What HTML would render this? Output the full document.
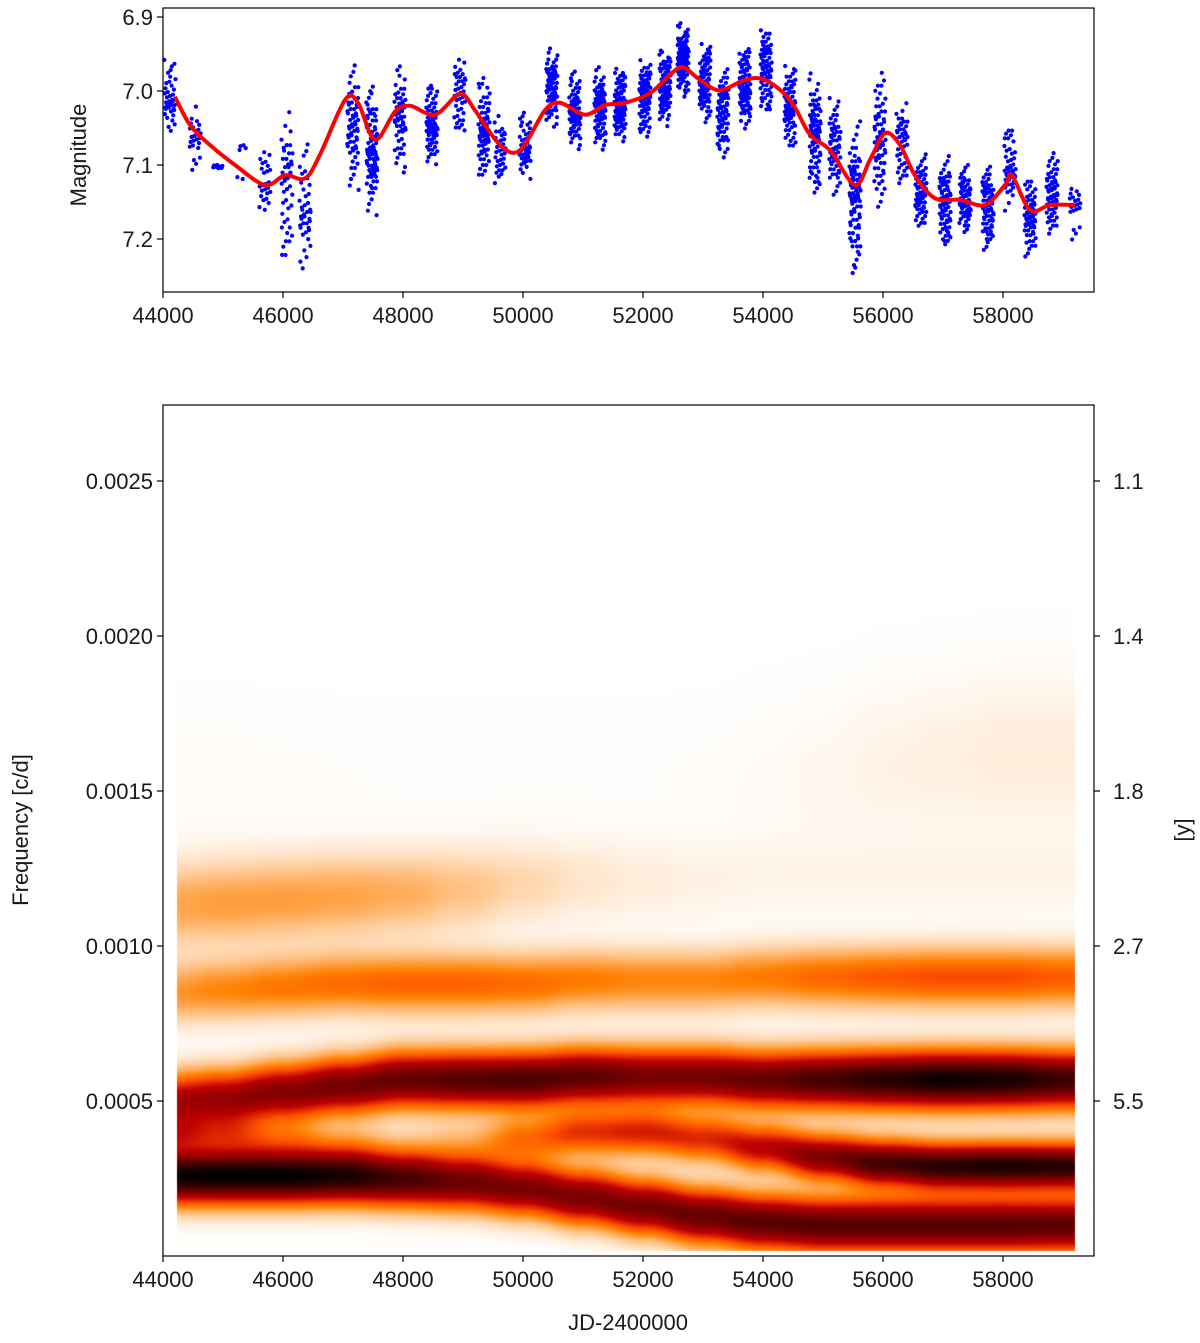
<!DOCTYPE html>
<html><head><meta charset="utf-8"><style>
html,body{margin:0;padding:0;background:#fff;}
#wrap{position:relative;width:1200px;height:1343px;}
#hm{position:absolute;left:0;top:0;}
svg{position:absolute;left:0;top:0;}
text{font-family:"Liberation Sans",sans-serif;font-size:22px;fill:#1a1a1a;}
</style></head><body>
<div id="wrap">
<canvas id="hm" width="1200" height="1343"></canvas>
<svg id="svg" width="1200" height="1343"></svg>
</div>
<script>
// ---------- data: light curve seasons ----------
const seasonJD  = [44117,44533,44917,45317,45700,46067,46367,47167,47483,47950,48483,48950,49350,49617,50033,50483,50867,51283,51617,52033,52367,52667,53033,53333,53700,54050,54450,54867,55200,55533,55950,56317,56633,57033,57367,57750,58117,58450,58817,59200];
const seasonMin = [6.958,7.012,7.080,7.053,7.066,7.012,7.066,6.958,6.985,6.958,6.985,6.945,6.972,7.026,7.026,6.938,6.972,6.965,6.958,6.945,6.938,6.904,6.931,6.958,6.931,6.904,6.958,6.972,7.005,7.032,6.958,7.005,7.080,7.080,7.093,7.093,7.039,7.107,7.073,7.107];
const seasonMax = [7.066,7.114,7.120,7.134,7.181,7.242,7.255,7.141,7.174,7.114,7.107,7.066,7.134,7.134,7.127,7.053,7.086,7.086,7.080,7.073,7.053,7.012,7.046,7.100,7.059,7.039,7.086,7.147,7.147,7.255,7.174,7.134,7.195,7.222,7.201,7.222,7.168,7.235,7.208,7.208];
const seasonN   = [40,25,8,6,25,45,40,60,80,55,70,40,70,35,45,70,70,80,80,80,80,90,80,70,80,70,70,80,60,80,60,45,60,70,60,70,45,60,60,20];
// ---------- data: smoothed red curve ----------
const fitJD  = [44200,44450,44783,45200,45700,46033,46367,46617,47033,47250,47533,47867,48117,48533,48950,49200,49617,49950,50367,50617,51033,51367,51700,52117,52450,52667,52950,53283,53700,54033,54450,54783,55117,55533,55783,56033,56283,56533,56867,57283,57700,58033,58150,58450,58783,59200];
const fitMag = [7.008,7.046,7.073,7.100,7.127,7.114,7.118,7.086,7.012,7.016,7.066,7.028,7.020,7.032,7.004,7.026,7.073,7.080,7.026,7.016,7.032,7.019,7.016,7.003,6.978,6.968,6.985,6.999,6.985,6.985,7.012,7.059,7.080,7.127,7.093,7.057,7.073,7.114,7.145,7.147,7.154,7.127,7.114,7.161,7.154,7.154];
// ---------- data: wavelet ridges (knots every 1000 d, 44000..59000) ----------
const knotJD = [44000,45000,46000,47000,48000,49000,50000,51000,52000,53000,54000,55000,56000,57000,58000,59000];
const bandMidFreq = [0.00050,0.00051,0.00053,0.00055,0.00057,0.00057,0.00057,0.00058,0.00058,0.00058,0.00057,0.00057,0.00057,0.00057,0.00057,0.00057];
const bandMidAmp  = [0.55,0.60,0.66,0.70,0.74,0.78,0.80,0.76,0.70,0.70,0.74,0.82,0.90,0.97,0.94,0.85];
const bandLowFreq = [0.00026,0.00026,0.00026,0.00026,0.00025,0.00024,0.00022,0.00019,0.00016,0.00013,0.00011,0.00010,0.00010,0.00010,0.00010,0.00010];
const bandLowAmp  = [0.97,1.00,1.00,0.94,0.82,0.72,0.68,0.68,0.70,0.74,0.77,0.78,0.78,0.78,0.78,0.76];
const band3Freq   = [0.00040,0.00040,0.00038,0.00036,0.00035,0.00036,0.00038,0.00040,0.00040,0.00038,0.00035,0.00032,0.00030,0.00029,0.00029,0.00029];
const band3Amp    = [0.40,0.30,0.18,0.10,0.06,0.12,0.28,0.40,0.44,0.42,0.52,0.68,0.83,0.90,0.93,0.90];
const band4Freq   = [0.00085,0.00086,0.00087,0.00088,0.00088,0.00088,0.00088,0.00089,0.00089,0.00089,0.00090,0.00090,0.00090,0.00090,0.00090,0.00090];
const band4Amp    = [0.20,0.24,0.27,0.29,0.31,0.31,0.29,0.26,0.24,0.24,0.26,0.30,0.33,0.35,0.35,0.32];
const band5Freq   = [0.00113,0.00114,0.00115,0.00116,0.00117,0.00118,0.00120,0.00121,0.00121,0.00121,0.00122,0.00122,0.00122,0.00122,0.00122,0.00122];
const band5Amp    = [0.17,0.19,0.19,0.18,0.16,0.12,0.08,0.05,0.035,0.025,0.02,0.02,0.02,0.02,0.02,0.02];
const band6Freq   = [0.00150,0.00150,0.00150,0.00150,0.00150,0.00150,0.00150,0.00150,0.00150,0.00150,0.00152,0.00155,0.00158,0.00160,0.00162,0.00162];
const band6Amp    = [0.008,0.008,0.006,0.005,0.004,0.004,0.004,0.004,0.004,0.006,0.01,0.015,0.025,0.03,0.035,0.035];
const xTicks = [44000,46000,48000,50000,52000,54000,56000,58000];
const magTicks = [6.9,7.0,7.1,7.2];
const freqTicks = [0.0005,0.0010,0.0015,0.0020,0.0025];
const periodLabels = ["5.5","2.7","1.8","1.4","1.1"];

// ---------- axes ----------
const L=163,R=1094, JD0=44000, pxPerJD=120/2000;
const X = jd => L+(jd-JD0)*pxPerJD;
const Ym = m => 17+(m-6.9)*740;
const Yf = f => 1256 - f*310000;
const NS="http://www.w3.org/2000/svg";
const svg=document.getElementById('svg');
function mk(tag,attrs,parent){const e=document.createElementNS(NS,tag);for(const k in attrs)e.setAttribute(k,attrs[k]);(parent||svg).appendChild(e);return e;}

// ---------- heatmap ----------
function interp(arr,jd){const t=(jd-44000)/1000;const i=Math.max(0,Math.min(14,Math.floor(t)));const u=Math.max(0,Math.min(1,t-i));const s=u*u*(3-2*u);return arr[i]*(1-s)+arr[i+1]*s;}
const cv=document.getElementById('hm'),ctx=cv.getContext('2d');
const hx0=177,hx1=1075,hy0=406,hy1=1251;
const img=ctx.createImageData(hx1-hx0,hy1-hy0);
const bands=[[bandMidFreq,bandMidAmp,0.000062],[bandLowFreq,bandLowAmp,0.00006],[band3Freq,band3Amp,0.00005],[band4Freq,band4Amp,0.000065],[band5Freq,band5Amp,0.00009],[band6Freq,band6Amp,0.00018]];
for(let px=hx0;px<hx1;px++){
  const jd=JD0+(px-L)/pxPerJD;
  const bs=bands.map(b=>[interp(b[0],jd),interp(b[1],jd),b[2]]);
  for(let py=hy0;py<hy1;py++){
    const f=(1256-py)/310000;let q=1;
    for(const b of bs){const d=(f-b[0])/b[2];q*=1-Math.min(1,b[1]*Math.exp(-0.5*d*d));}
    const v=1-q;const x=1-v;
    const r=Math.min(1,1.5*x),g=Math.max(0,Math.min(1,2*x-1)),bl=Math.max(0,Math.min(1,4*x-3));
    const k=((py-hy0)*(hx1-hx0)+(px-hx0))*4;
    img.data[k]=r*255;img.data[k+1]=g*255;img.data[k+2]=bl*255;img.data[k+3]=255;
  }
}
ctx.putImageData(img,hx0,hy0);

// ---------- top scatter ----------
const gPts=mk('g',{});


seasonJD.forEach((jd,i)=>{
  const n=seasonN[i];
  for(let j=0;j<n;j++){
    const a=(j*0.618034+i*0.13)%1, b=(j*0.4142136+i*0.37)%1, c=(j*0.7320508+i*0.21)%1;
    const tri=(a+b)/2;
    const m=seasonMin[i]+(seasonMax[i]-seasonMin[i])*tri*1.0;
    const dj=(c-0.5)*190;
    const ci=mk('circle',{cx:X(jd+dj).toFixed(1),cy:Ym(m).toFixed(1),r:2.1,fill:'#0000ff'},gPts);
    
    
  }
});
// red fitted line (Catmull-Rom)
(function(){
  const p=fitJD.map((jd,i)=>[X(jd),Ym(fitMag[i])]);
  let d=`M${p[0][0]},${p[0][1]}`;
  for(let i=0;i<p.length-1;i++){
    const p0=p[Math.max(0,i-1)],p1=p[i],p2=p[i+1],p3=p[Math.min(p.length-1,i+2)];
    const c1=[p1[0]+(p2[0]-p0[0])/6,p1[1]+(p2[1]-p0[1])/6],c2=[p2[0]-(p3[0]-p1[0])/6,p2[1]-(p3[1]-p1[1])/6];
    d+=` C${c1[0].toFixed(1)},${c1[1].toFixed(1)} ${c2[0].toFixed(1)},${c2[1].toFixed(1)} ${p2[0].toFixed(1)},${p2[1].toFixed(1)}`;
  }
  const path=mk('path',{d:d,fill:'none',stroke:'#ff0000','stroke-width':4,'stroke-linejoin':'round'});
  
  
})();

// ---------- frames & ticks ----------
function frame(y0,y1,name){const r=mk('rect',{x:L,y:y0,width:R-L,height:y1-y0,fill:'none',stroke:'#000','stroke-width':1.2});}
frame(8,292,'top-axes-frame');frame(405,1256,'bottom-axes-frame');
function xAxis(yb,name){
  xTicks.forEach(v=>{
    mk('line',{x1:X(v),x2:X(v),y1:yb,y2:yb+6,stroke:'#000','stroke-width':1.2});
    const t=mk('text',{x:X(v),y:yb+31,'text-anchor':'middle'});t.textContent=v;
    
    
  });
}
xAxis(292,'top-x');xAxis(1256,'bottom-x');
magTicks.forEach(v=>{
  mk('line',{x1:L-6,x2:L,y1:Ym(v),y2:Ym(v),stroke:'#000','stroke-width':1.2});
  const t=mk('text',{x:L-10,y:Ym(v)+8,'text-anchor':'end'});t.textContent=v.toFixed(1);
  
  
});
freqTicks.forEach((v,i)=>{
  mk('line',{x1:L-6,x2:L,y1:Yf(v),y2:Yf(v),stroke:'#000','stroke-width':1.2});
  mk('line',{x1:R,x2:R+6,y1:Yf(v),y2:Yf(v),stroke:'#000','stroke-width':1.2});
  const t=mk('text',{x:L-10,y:Yf(v)+8,'text-anchor':'end'});t.textContent=v.toFixed(4);
  
  
  const t2=mk('text',{x:R+19,y:Yf(v)+8,'text-anchor':'start'});t2.textContent=periodLabels[i];
  
  
});
function label(txt,x,y,rot,name){const t=mk('text',{x:x,y:y,'text-anchor':'middle',transform:rot?`rotate(${rot} ${x} ${y})`:''});t.textContent=txt;}
label('Magnitude',86,155,-90,'magnitude-axis-title');
label('Frequency [c/d]',28,830,-90,'frequency-axis-title');
label('[y]',1190,830,-90,'period-axis-title');
label('JD-2400000',628,1330,0,'x-axis-title');
</script>
</body></html>
